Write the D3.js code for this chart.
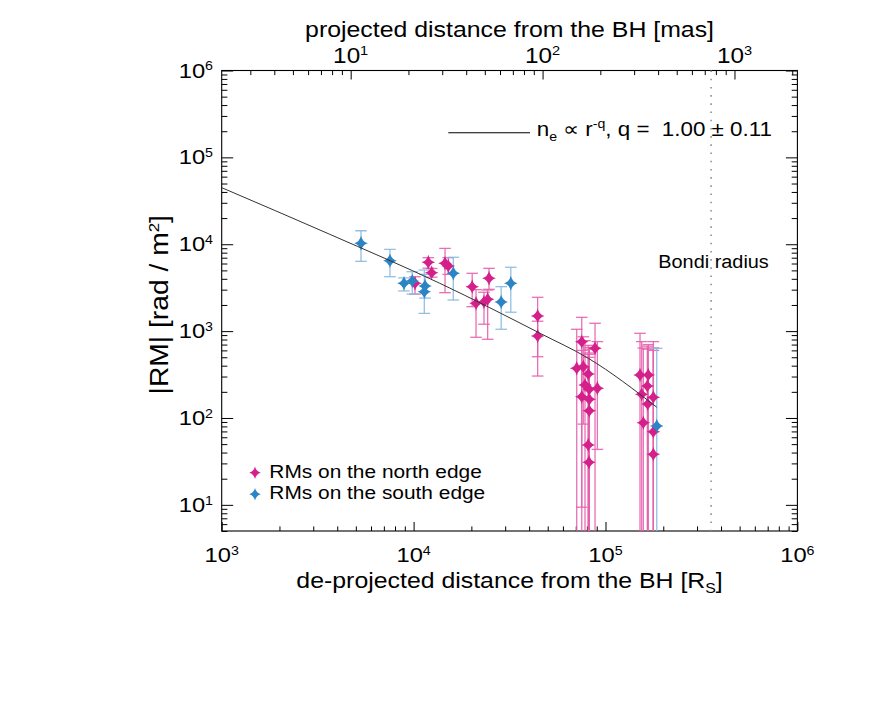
<!DOCTYPE html>
<html><head><meta charset="utf-8">
<script src="https://cdn.jsdelivr.net/npm/d3@7"></script>
<style>
body{margin:0;background:#fff}
text{font-family:"Liberation Sans",Arial,Helvetica,sans-serif;fill:#000;white-space:pre}
</style>
</head><body>
<svg id="c" width="886" height="709"></svg>
<script>
// ---------- data ----------
const xMajorTicks = [1e3, 1e4, 1e5, 1e6];
const yMajorTicks = [1e1, 1e2, 1e3, 1e4, 1e5, 1e6];
const topMajorTicks = [1e1, 1e2, 1e3];
const xDomain = [1e3, 1e6];
const yDomain = [5, 1e6];
const rsPerMas = 470;          // de-projected Rs per projected mas
const bondiRadius = 3.55e5;

// fitted model curve
const fitR  = [1000, 3660, 13700, 45600, 81300, 185000];
const fitRM = [44800, 13000, 3550, 944, 487, 133];
const fitQ = "1.00", fitQErr = "0.11";

// RMs on the north edge
const northR  = [10170, 11930, 12420, 14580, 15160, 20200, 21150, 24710, 24320, 23270, 44300, 44300,
                 75200, 70800, 76600, 81300, 88200, 78200, 82300, 90700, 75200, 82300, 82300, 81300, 82000,
                 151300, 167100, 165200, 154400, 177500, 166000, 157400, 177500, 177500];
const northRM = [3550, 6200, 4700, 6040, 5610, 3250, 2090, 4050, 2320, 2160, 1490, 879,
                 755, 373, 389, 321, 634, 240, 214, 220, 176, 164, 121, 48.9, 30.9,
                 313, 313, 233, 187, 173, 145, 88.3, 69.5, 38.2];
const northHi = [4230, 7000, 5260, 8980, 7000, 4630, 3000, 5280, 2970, 2800, 2450, 1300,
                 1440, 1050, 860, 686, 1230, 776, 650, 757, 600, 620, 560, 540, 500,
                 944, 700, 672, 757, 640, 620, 638, 757, 600];
const northLo = [2670, 5300, 4180, 2770, 4500, 1910, 849, 3030, 805, 1200, 304, 507,
                 1, 1, 85, 1, 1, 1, 1, 43.5, 9.4, 1, 1, 1, 1,
                 1, 1, 1, 1, 1, 1, 1, 1, 1];

// RMs on the south edge
const southR  = [5320, 7530, 8910, 9840, 11470, 11370, 16100, 28600, 32100, 185000];
const southRM = [10250, 6460, 3550, 3780, 3310, 2840, 4630, 2160, 3550, 80.9];
const southHi = [14300, 8740, 4100, 4830, 4500, 5050, 7080, 3250, 5430, 634];
const southLo = [6360, 4230, 2900, 2670, 2400, 1600, 2280, 1050, 1650, 1];

const legendLabels = ["RMs on the north edge", "RMs on the south edge"];
const colors = {north: "#d4208b", south: "#2b84c4", northErr: "#e561ad", southErr: "#86b9e0"};

// ---------- layout ----------
const L = 221.7, R = 797.4, T = 70.5, B = 531;
const SX = 1.13; // horizontal glyph stretch of the original raster
const svg = d3.select("#c");

const x = d3.scaleLog().domain(xDomain).range([L, R]);
const y = d3.scaleLog().domain(yDomain).range([B, T]);
const xTop = d3.scaleLog().domain([xDomain[0] / rsPerMas, xDomain[1] / rsPerMas]).range([L, R]);

svg.append("clipPath").attr("id", "clip").append("rect")
  .attr("x", L).attr("y", T).attr("width", R - L).attr("height", B - T);

const isMajor = v => Math.abs(Math.log10(v) - Math.round(Math.log10(v))) < 1e-9;

function axisTicks(axisFn, scale, translate, majorLen, minorLen) {
  const all = scale.ticks();
  const majors = all.filter(isMajor), minors = all.filter(v => !isMajor(v));
  [[majors, majorLen], [minors, minorLen]].forEach(([vals, len]) => {
    const g = svg.append("g").attr("transform", translate)
      .call(axisFn(scale).tickValues(vals).tickSize(len).tickFormat(() => ""));
    g.select(".domain").remove();
    g.selectAll("line").attr("stroke", "#000").attr("stroke-width", 1);
  });
}
// bottom ticks point up (inside), top point down, left right, right left
axisTicks(d3.axisTop, x, `translate(0,${B})`, 9, 4.6);
axisTicks(d3.axisBottom, xTop, `translate(0,${T})`, 9, 4.6);
axisTicks(d3.axisRight, y, `translate(${L},0)`, 11.5, 5.7);
axisTicks(d3.axisLeft, y, `translate(${R},0)`, 11.5, 5.7);

svg.append("rect").attr("x", L).attr("y", T).attr("width", R - L).attr("height", B - T)
  .attr("fill", "none").attr("stroke", "#000").attr("stroke-width", 1.1);

// power label helper
function powLabel(px, py, exp, anchor, size) {
  const t = svg.append("text")
    .attr("transform", `translate(${px},${py}) scale(${SX},1)`)
    .attr("text-anchor", anchor).style("font-size", size + "px");
  t.append("tspan").text("10");
  t.append("tspan").attr("dy", -size * 0.35).style("font-size", (size * 0.6) + "px").text(exp);
  return t;
}
xMajorTicks.forEach(v => powLabel(x(v), 562, Math.round(Math.log10(v)), "middle", 21));
topMajorTicks.forEach(v => powLabel(xTop(v), 62.5, Math.round(Math.log10(v)), "middle", 21.5));
yMajorTicks.forEach(v => powLabel(213, y(v) + 7, Math.round(Math.log10(v)), "end", 21));

// axis titles
{
  const t = svg.append("text").attr("transform", `translate(${(L + R) / 2},588.3) scale(${SX},1)`)
    .attr("text-anchor", "middle").style("font-size", "22px");
  t.append("tspan").text("de-projected distance from the BH [R");
  t.append("tspan").attr("dy", 5).style("font-size", "14px").text("S");
  t.append("tspan").attr("dy", -5).text("]");
}
svg.append("text").attr("transform", `translate(${(L + R) / 2},36.5) scale(${SX},1)`)
  .attr("text-anchor", "middle").style("font-size", "22px")
  .text("projected distance from the BH [mas]");
{
  const t = svg.append("text").attr("transform", `translate(168,${(T + B) / 2 + 4}) rotate(-90) scale(${SX},1)`)
    .attr("text-anchor", "middle").style("font-size", "25px");
  t.append("tspan").text("|RM| [rad / m");
  t.append("tspan").attr("dy", -9).style("font-size", "15px").text("2");
  t.append("tspan").attr("dy", 9).text("]");
}

// Bondi radius
svg.append("line").attr("x1", x(bondiRadius)).attr("x2", x(bondiRadius)).attr("y1", T).attr("y2", B)
  .attr("stroke", "#8a8a8a").attr("stroke-width", 1.5).attr("stroke-dasharray", "1.6,6.6");
svg.append("text").attr("transform", `translate(658.3,268.3) scale(${SX},1)`)
  .style("font-size", "17.6px").text("Bondi radius");

// star marker path
function star(rx, ry) {
  const c = 0.2;
  return `M0,${-ry}Q${c * rx},${-c * ry} ${rx},0Q${c * rx},${c * ry} 0,${ry}` +
         `Q${-c * rx},${c * ry} ${-rx},0Q${-c * rx},${-c * ry} 0,${-ry}Z`;
}

function drawSeries(rs, rms, his, los, col, errCol) {
  const data = rs.map((r, i) => ({r, rm: rms[i], hi: his[i], lo: los[i]}));
  const g = svg.append("g").attr("clip-path", "url(#clip)");
  const eb = g.selectAll("g.eb").data(data).join("g").attr("stroke", errCol)
    .attr("stroke-width", 1.3).attr("stroke-opacity", 0.9);
  eb.append("line").attr("x1", d => x(d.r)).attr("x2", d => x(d.r))
    .attr("y1", d => y(d.hi)).attr("y2", d => y(Math.max(d.lo, 0.5)));
  eb.append("line").attr("x1", d => x(d.r) - 5.8).attr("x2", d => x(d.r) + 5.8)
    .attr("y1", d => y(d.hi)).attr("y2", d => y(d.hi));
  eb.filter(d => d.lo > yDomain[0]).append("line")
    .attr("x1", d => x(d.r) - 5.8).attr("x2", d => x(d.r) + 5.8)
    .attr("y1", d => y(d.lo)).attr("y2", d => y(d.lo));
  return data;
}
const nData = drawSeries(northR, northRM, northHi, northLo, colors.north, colors.northErr);
const sData = drawSeries(southR, southRM, southHi, southLo, colors.south, colors.southErr);

svg.append("g").selectAll("path").data(nData).join("path")
  .attr("transform", d => `translate(${x(d.r)},${y(d.rm)})`).attr("d", star(6.8, 7.5)).attr("fill", colors.north);
svg.append("g").selectAll("path").data(sData).join("path")
  .attr("transform", d => `translate(${x(d.r)},${y(d.rm)})`).attr("d", star(6.8, 7.5)).attr("fill", colors.south);

// fit curve
const fitData = fitR.map((r, i) => [r, fitRM[i]]);
svg.append("path").datum(fitData)
  .attr("d", d3.line().x(d => x(d[0])).y(d => y(d[1])).curve(d3.curveMonotoneX))
  .attr("fill", "none").attr("stroke", "#333").attr("stroke-width", 1);

// fit legend
svg.append("line").attr("x1", 448.3).attr("x2", 530).attr("y1", 132.7).attr("y2", 132.7)
  .attr("stroke", "#000").attr("stroke-width", 1.1);
{
  const t = svg.append("text").attr("transform", `translate(536.7,136) scale(${SX},1)`)
    .style("font-size", "19.8px");
  t.append("tspan").text("n");
  t.append("tspan").attr("dy", 5).style("font-size", "12.5px").text("e");
  t.append("tspan").attr("dy", -5).text(" \u221D r");
  t.append("tspan").attr("dy", -8).style("font-size", "12.5px").text("-q");
  t.append("tspan").attr("dy", 8).text(`, q =  ${fitQ} \u00B1 ${fitQErr}`);
}

// series legend
[[colors.north, legendLabels[0], 472.7, 478.3], [colors.south, legendLabels[1], 494.3, 499.3]]
  .forEach(([c, lab, sy, ty]) => {
    svg.append("path").attr("transform", `translate(255,${sy})`).attr("d", star(5.8, 6.2)).attr("fill", c);
    svg.append("text").attr("transform", `translate(269.3,${ty}) scale(${SX},1)`)
      .style("font-size", "18.5px").text(lab);
  });
</script>
</body></html>
